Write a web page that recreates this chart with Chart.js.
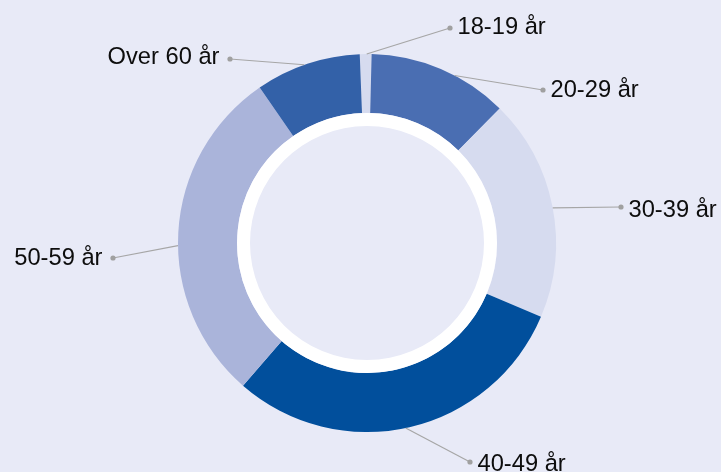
<!DOCTYPE html>
<html>
<head>
<meta charset="utf-8">
<script src="https://cdn.jsdelivr.net/npm/chart.js@4"></script>
<style>
  html, body { margin: 0; padding: 0; background: #e8eaf7; }
  #wrap { width: 721px; height: 472px; position: relative; }
</style>
</head>
<body>
<div id="wrap"><canvas id="c" width="721" height="472"></canvas></div>
<script>
// ---- data ----
const categories = ["18-19 år", "20-29 år", "30-39 år", "40-49 år", "50-59 år", "Over 60 år"];
const shares = [1, 12, 19, 30, 29, 9];
const sliceColors = ["#d6dbef", "#4a6eb2", "#d6dbef", "#014f9c", "#aab4da", "#3361a8"];

// label placement (dot position relative to chart centre), text nudges, leader attach shifts (deg)
const labelDotOffset = [[83, -215], [176, -153], [254, -36], [103, 219], [-254, 15], [-137, -184]];
const labelTextShift = [-3, -2, 1, 0, -1.5, -3.5];
const leaderAngleShift = [0.3, 4.6, 0.5, 1.2, -4, -1];

const ringPlugin = {
  id: "ringAndLabels",
  afterDatasetsDraw(chart) {
    const meta = chart.getDatasetMeta(0);
    const ctx = chart.ctx;
    const a0 = meta.data[0];
    const cx = a0.x, cy = a0.y;
    const rIn = a0.innerRadius;
    ctx.save();
    // white ring inside the hole
    ctx.fillStyle = "#ffffff";
    ctx.beginPath();
    ctx.arc(cx, cy, rIn, 0, Math.PI * 2);
    ctx.arc(cx, cy, rIn - 13, 0, Math.PI * 2, true);
    ctx.fill("evenodd");
    // leader lines, dots and labels
    ctx.font = "23.7px 'Liberation Sans', Arial, sans-serif";
    ctx.textBaseline = "alphabetic";
    meta.data.forEach((arc, i) => {
      const mid = (arc.startAngle + arc.endAngle) / 2 + leaderAngleShift[i] * Math.PI / 180;
      const r = arc.outerRadius;
      const ax = cx + Math.cos(mid) * r, ay = cy + Math.sin(mid) * r;
      const dx = cx + labelDotOffset[i][0], dy = cy + labelDotOffset[i][1];
      ctx.strokeStyle = "#a6a6a6";
      ctx.lineWidth = 1.2;
      ctx.beginPath();
      ctx.moveTo(ax, ay);
      ctx.lineTo(dx, dy);
      ctx.stroke();
      ctx.fillStyle = "#a0a0a0";
      ctx.beginPath();
      ctx.arc(dx, dy, 2.6, 0, Math.PI * 2);
      ctx.fill();
      ctx.fillStyle = "#0d0d0d";
      const base = dy + labelTextShift[i] + 8.5;
      if (labelDotOffset[i][0] >= 0) {
        ctx.textAlign = "left";
        ctx.fillText(categories[i], dx + 7.5, base);
      } else {
        ctx.textAlign = "right";
        ctx.fillText(categories[i], dx - 10.5, base);
      }
    });
    ctx.restore();
  }
};

new Chart(document.getElementById("c"), {
  type: "doughnut",
  data: {
    labels: categories,
    datasets: [{
      data: shares,
      backgroundColor: sliceColors,
      borderWidth: 0,
      hoverOffset: 0,
      offset: 0
    }]
  },
  options: {
    responsive: false,
    animation: false,
    rotation: -2.2,
    radius: 189,
    cutout: 130,
    layout: { padding: { top: 54, bottom: 40, left: 100, right: 87 } },
    plugins: {
      legend: { display: false },
      tooltip: { enabled: false }
    }
  },
  plugins: [ringPlugin]
});
</script>
</body>
</html>
